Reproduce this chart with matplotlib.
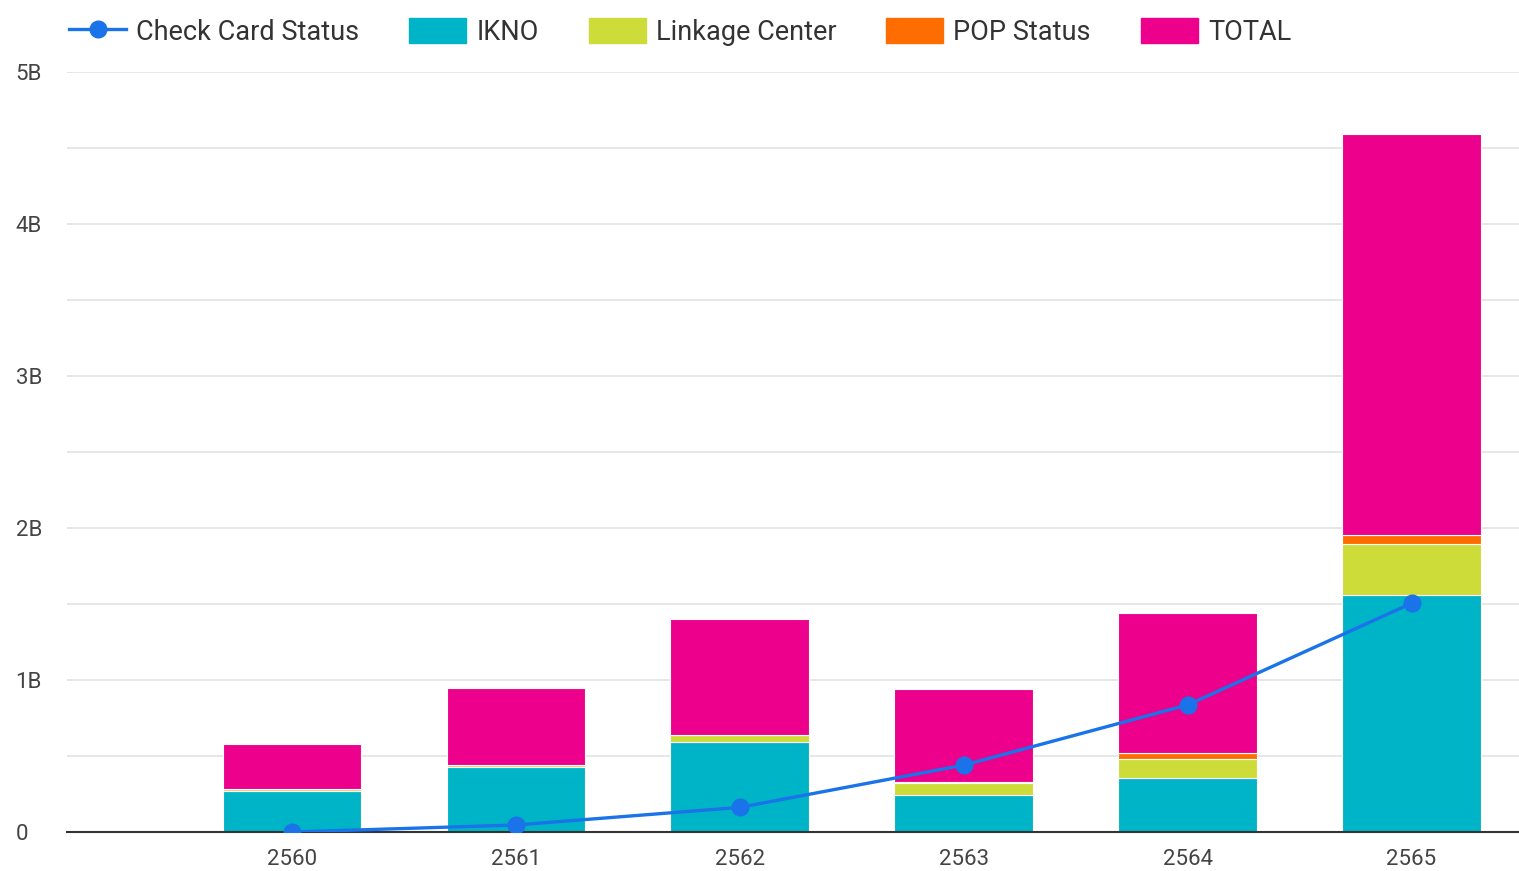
import matplotlib
matplotlib.use("Agg")
import matplotlib.pyplot as plt
import numpy as np
from matplotlib.ticker import FuncFormatter
from matplotlib.lines import Line2D
from matplotlib.patches import Patch

years = ["2560", "2561", "2562", "2563", "2564", "2565"]
ikno = [0.27, 0.43, 0.59, 0.245, 0.353, 1.56]
linkage = [0.01, 0.01, 0.05, 0.075, 0.125, 0.335]
pop_status = [0.0, 0.0, 0.0, 0.01, 0.04, 0.06]
total = [0.30, 0.505, 0.76, 0.61, 0.925, 2.635]
check_card = [0.0, 0.046, 0.162, 0.44, 0.836, 1.505]

C_IKNO = "#00B4C8"
C_LINK = "#CDDC39"
C_POP = "#FF6D00"
C_TOT = "#EC008C"
C_LINE = "#1A73E8"

plt.rcParams['font.family'] = ['Roboto', 'DejaVu Sans']

fig = plt.figure(figsize=(15.19, 8.71), dpi=100)
ax = fig.add_axes([67/1519, 39/871, 1 - 67/1519, (832-72)/871])

x = np.arange(len(years))
w = 0.62
b = np.zeros(len(years))
series = [(ikno, C_IKNO), (linkage, C_LINK), (pop_status, C_POP), (total, C_TOT)]
for vals, col in series:
    v = np.array(vals)
    ax.bar(x, v, w, bottom=b, color=col, edgecolor="white", linewidth=0.8, zorder=2)
    b = b + v

ax.plot(x, check_card, color=C_LINE, lw=2.4, marker="o", ms=12, zorder=4)

ax.set_xlim(-1.005, 5.48)
ax.set_ylim(0, 5)
ax.set_yticks(np.arange(0, 5.01, 0.5))
ax.yaxis.grid(True, color="#e2e2e2", lw=1.2, zorder=0)
ax.set_axisbelow(True)
for s in ["top", "right", "left"]:
    ax.spines[s].set_visible(False)
ax.spines["bottom"].set_color("#333333")
ax.spines["bottom"].set_linewidth(1.5)
ax.spines["bottom"].set_zorder(3)

def fmt(v, pos):
    if abs(v - round(v)) > 1e-6:
        return ""
    return "0" if v == 0 else f"{int(round(v))}B"
ax.yaxis.set_major_formatter(FuncFormatter(fmt))
ax.set_xticks(x)
ax.set_xticklabels(years)
ax.tick_params(axis="x", length=0, labelsize=16, labelcolor="#444444", pad=12)
ax.tick_params(axis="y", length=0, labelsize=16, labelcolor="#444444", pad=37)
for lab in ax.get_yticklabels():
    lab.set_horizontalalignment("left")

handles = [
    Line2D([0], [0], color=C_LINE, lw=2.4, marker="o", ms=12),
    Patch(color=C_IKNO),
    Patch(color=C_LINK),
    Patch(color=C_POP),
    Patch(color=C_TOT),
]
labels = ["Check Card Status", "IKNO", "Linkage Center", "POP Status", "TOTAL"]
fig.legend(handles, labels, loc="upper left", bbox_to_anchor=(0.0295, 1.007),
           ncol=5, frameon=False, fontsize=19.5, handlelength=2.1, handleheight=1.05,
           columnspacing=1.84, handletextpad=0.38, labelcolor="#333333")

fig.savefig("out.png", dpi=100, facecolor="white")
